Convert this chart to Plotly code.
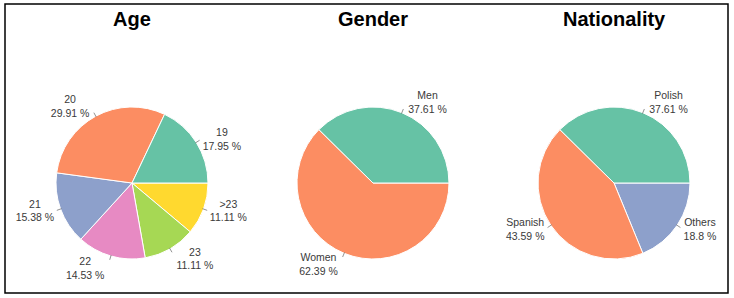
import math
import plotly.graph_objects as go

age_labels = ["19", "20", "21", "22", "23", ">23"]
age_counts = [21, 35, 18, 17, 13, 13]
gender_labels = ["Men", "Women"]
gender_counts = [44, 73]
nat_labels = ["Polish", "Spanish", "Others"]
nat_counts = [44, 51, 22]
titles = ["Age", "Gender", "Nationality"]
set2 = ["#66c2a5", "#fc8d62", "#8da0cb", "#e78ac3", "#a6d854", "#ffd92f"]

W, H = 734, 298
CY, R = 183, 75


def pct_text(counts):
    t = sum(counts)
    return [f"{round(c / t * 100, 2):g} %" for c in counts]


def dom(cx, cy, hw, hh):
    return dict(x=[(cx - hw) / W, (cx + hw) / W],
                y=[(H - cy - hh) / H, (H - cy + hh) / H])


fig = go.Figure()
centers = [132, 373, 614]
specs = [(age_labels, age_counts), (gender_labels, gender_counts), (nat_labels, nat_counts)]
for (labels, counts), cx in zip(specs, centers):
    # reversed order drawn clockwise from 3 o'clock == natural order counterclockwise
    fig.add_trace(go.Pie(
        labels=labels[::-1], values=counts[::-1], sort=False, direction="clockwise", rotation=90,
        customdata=pct_text(counts)[::-1], texttemplate="%{label}<br>%{customdata}",
        textposition="outside", automargin=False,
        marker=dict(colors=set2[:len(labels)][::-1], line=dict(color="white", width=1)),
        textfont=dict(family="Liberation Sans, Arial", size=10.5, color="#3a3a3a"),
        domain=dom(cx, CY, 118, 76), showlegend=False, hoverinfo="label+percent",
    ))
    # small leader ticks at each slice's mid angle
    total = sum(counts)
    acc = 0
    for c in counts:
        mid = (acc + c / 2) / total * 2 * math.pi
        acc += c
        x0, y0 = cx + R * math.cos(mid), CY - R * math.sin(mid)
        x1, y1 = cx + (R + 5) * math.cos(mid), CY - (R + 5) * math.sin(mid)
        fig.add_shape(type="line", xref="paper", yref="paper",
                      x0=x0 / W, y0=1 - y0 / H, x1=x1 / W, y1=1 - y1 / H,
                      line=dict(color="#777777", width=0.8))

for t, cx in zip(titles, centers):
    fig.add_annotation(text=f"<b>{t}</b>", x=cx / W, y=1 - 19 / H, xref="paper", yref="paper",
                       xanchor="center", yanchor="middle", showarrow=False,
                       font=dict(family="Liberation Sans, Arial", size=20, color="black"))

fig.add_shape(type="rect", xref="paper", yref="paper", x0=5 / W, x1=728 / W, y0=1 - 293 / H, y1=1 - 4 / H,
              line=dict(color="black", width=1.5))

fig.update_layout(width=W, height=H, margin=dict(l=0, r=0, t=0, b=0, autoexpand=False),
                  paper_bgcolor="white", plot_bgcolor="white")
fig.write_html("out.html", config={"displayModeBar": False},
               post_script="document.body.style.margin='0px';")
